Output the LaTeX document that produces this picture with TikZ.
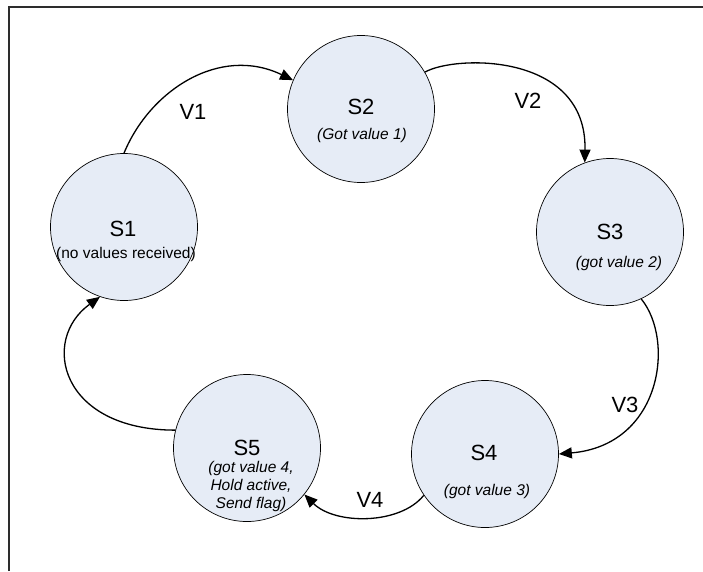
\documentclass[tikz,border=0pt]{standalone}
\usepackage{fontspec}
\setmainfont{Liberation Sans}
\usetikzlibrary{arrows.meta}
\definecolor{statefill}{RGB}{230,236,246}
\definecolor{framegray}{RGB}{45,45,45}
\begin{document}
\begin{tikzpicture}[x=1pt,y=-1pt,
  state/.style={circle,draw=black,line width=0.7pt,fill=statefill,
    minimum size=147pt,inner sep=0pt},
  title/.style={inner sep=0pt,font=\fontsize{22}{24}\selectfont},
  note/.style={inner sep=0pt,align=center,font=\fontsize{15.5}{18}\selectfont\itshape},
  plain note/.style={inner sep=0pt,font=\fontsize{15.5}{18}\selectfont},
  trans/.style={line width=1.3pt,-{Triangle[length=13pt,width=11pt]}},
  vlabel/.style={inner sep=0pt,font=\fontsize{22}{24}\selectfont}]
\useasboundingbox (0,0) rectangle (703,571);
% open frame: top and left edges only
\draw[framegray,line width=1.4pt] (9,571) -- (9,7) -- (703,7);

% states
\node[state] (s1) at (124,227) {};
\node[state] (s2) at (361,109) {};
\node[state] (s3) at (610,232) {};
\node[state] (s4) at (485,454) {};
\node[state] (s5) at (247,448) {};

% state captions
\node[title] (t1) at (123,229) {S1};
\node[plain note] (n1) at (126,254) {(no values received)};
\node[title] (t2) at (361,107) {S2};
\node[note] (n2) at (362,135) {(Got value 1)};
\node[title] (t3) at (610,232) {S3};
\node[note] (n3) at (619,263) {(got value 2)};
\node[title] (t4) at (484,453) {S4};
\node[note] (n4) at (487,491) {(got value 3)};
\node[title] (t5) at (247,448) {S5};
\node[note] (n5) at (251,486) {(got value 4,\\Hold active,\\Send flag)};

% transitions
\draw[trans] (s1.90) .. controls (150,90) and (220,45) .. (s2.157);
\draw[trans] (s2.30) .. controls (455,55) and (587,52) .. (s3.110);
\draw[trans] (s3.295) .. controls (675,340) and (662,445) .. (s4.0);
\draw[trans] (s4.214) .. controls (400,525) and (335,525) .. (s5.321);
\draw[trans] (s5.166) .. controls (60,430) and (40,340) .. (s1.251);

% transition labels
\node[vlabel] (v1) at (193,112) {V1};
\node[vlabel] (v2) at (528,101) {V2};
\node[vlabel] (v3) at (625,405) {V3};
\node[vlabel] (v4) at (370,500) {V4};
\end{tikzpicture}
\end{document}
